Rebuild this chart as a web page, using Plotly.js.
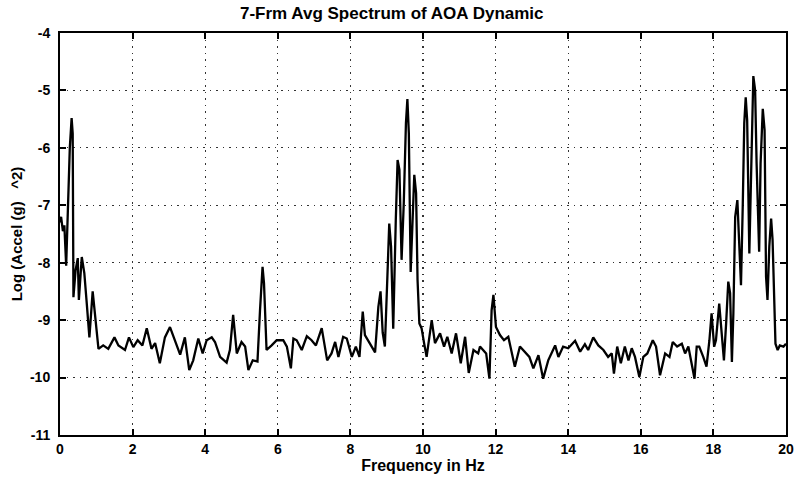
<!DOCTYPE html>
<html>
<head>
<meta charset="utf-8">
<script src="https://cdn.plot.ly/plotly-3.0.1.min.js"></script>
<style>html,body{margin:0;padding:0;background:#fff;}#chart{width:797px;height:486px;}</style>
</head>
<body>
<div id="chart"></div>
<script>
// Frequency (Hz)
const freqHz = [
0.00,0.03,0.08,0.12,0.17,0.22,0.27,0.32,0.35,0.37,0.43,0.49,0.52,0.60,0.67,0.73,0.81,0.90,0.96,1.06,
1.19,1.33,1.50,1.61,1.79,1.90,2.02,2.14,2.27,2.39,2.52,2.62,2.75,2.89,3.03,3.17,3.31,3.44,3.56,3.67,
3.81,3.93,4.04,4.18,4.27,4.41,4.59,4.68,4.77,4.87,5.00,5.10,5.19,5.31,5.44,5.51,5.58,5.62,5.69,5.83,
5.97,6.15,6.25,6.36,6.43,6.52,6.66,6.80,6.93,7.05,7.21,7.36,7.48,7.58,7.67,7.80,7.90,8.04,8.15,8.25,
8.34,8.40,8.52,8.68,8.77,8.83,8.89,8.95,9.02,9.07,9.12,9.18,9.25,9.30,9.35,9.41,9.47,9.53,9.57,9.61,
9.66,9.72,9.76,9.81,9.85,9.90,9.96,10.03,10.10,10.24,10.33,10.47,10.58,10.67,10.79,10.91,11.04,11.16,11.26,11.39,
11.52,11.57,11.74,11.83,11.89,11.94,12.01,12.12,12.23,12.35,12.53,12.67,12.81,12.93,13.04,13.18,13.31,13.45,13.64,13.73,
13.86,14.00,14.19,14.33,14.46,14.55,14.69,14.83,14.97,15.10,15.20,15.26,15.35,15.45,15.56,15.66,15.75,15.84,15.96,16.07,
16.18,16.33,16.42,16.53,16.67,16.79,16.88,17.00,17.13,17.22,17.31,17.40,17.48,17.54,17.61,17.72,17.81,17.89,17.95,18.02,
18.07,18.16,18.23,18.29,18.35,18.41,18.46,18.51,18.55,18.60,18.66,18.71,18.76,18.81,18.85,18.89,18.93,18.99,19.04,19.10,
19.15,19.19,19.26,19.30,19.36,19.41,19.45,19.49,19.54,19.59,19.63,19.67,19.71,19.77,19.83,19.93,20.00
];
// Log (Accel (g)^2) values
const logAccel = [
-7.30,-7.20,-7.45,-7.35,-8.05,-7.00,-6.00,-5.48,-5.75,-8.60,-8.13,-7.92,-8.65,-7.90,-8.18,-8.65,-9.30,-8.50,-8.88,-9.50,
-9.44,-9.50,-9.30,-9.44,-9.52,-9.30,-9.47,-9.35,-9.44,-9.14,-9.50,-9.40,-9.75,-9.30,-9.12,-9.35,-9.60,-9.30,-9.87,-9.70,
-9.32,-9.58,-9.35,-9.30,-9.38,-9.64,-9.74,-9.52,-8.91,-9.58,-9.38,-9.46,-9.87,-9.70,-9.72,-8.83,-8.07,-8.36,-9.52,-9.44,
-9.35,-9.35,-9.46,-9.84,-9.32,-9.35,-9.52,-9.28,-9.35,-9.44,-9.14,-9.70,-9.58,-9.38,-9.64,-9.29,-9.32,-9.64,-9.46,-9.64,
-8.85,-9.26,-9.38,-9.56,-8.77,-8.50,-9.22,-9.46,-8.22,-7.32,-7.72,-9.15,-7.26,-6.21,-6.38,-7.95,-6.97,-5.57,-5.15,-5.75,
-8.16,-7.03,-6.47,-6.79,-8.30,-9.06,-9.14,-9.40,-9.64,-9.00,-9.40,-9.23,-9.46,-9.29,-9.58,-9.23,-9.75,-9.29,-9.92,-9.52,
-9.58,-9.46,-9.58,-10.02,-8.83,-8.56,-9.12,-9.26,-9.35,-9.29,-9.81,-9.46,-9.55,-9.64,-9.84,-9.61,-10.02,-9.70,-9.44,-9.64,
-9.46,-9.49,-9.36,-9.55,-9.42,-9.52,-9.30,-9.44,-9.52,-9.64,-9.58,-9.93,-9.46,-9.75,-9.46,-9.70,-9.49,-9.64,-9.99,-9.64,
-9.58,-9.35,-9.46,-9.96,-9.58,-9.64,-9.38,-9.46,-9.41,-9.58,-9.46,-9.73,-10.02,-9.46,-9.46,-9.64,-9.81,-9.35,-8.88,-9.46,
-9.35,-8.71,-9.23,-9.70,-9.06,-8.33,-8.53,-9.73,-8.88,-7.20,-6.91,-7.55,-8.39,-6.97,-5.57,-5.12,-5.52,-7.84,-6.27,-4.75,
-5.00,-6.27,-7.81,-6.27,-5.32,-5.69,-8.24,-8.65,-7.72,-7.23,-7.60,-8.59,-9.41,-9.52,-9.44,-9.46,-9.41
];
const xTickVals = [0,2,4,6,8,10,12,14,16,18,20];
const xTickLabels = ['0','2','4','6','8','10','12','14','16','18','20'];
const yTickVals = [-11,-10,-9,-8,-7,-6,-5,-4];
const yTickLabels = ['-11','-10','-9','-8','-7','-6','-5','-4'];

const fontFam = 'Liberation Sans, Arial, sans-serif';
const axisCommon = {
  showline: true, linecolor: '#000', linewidth: 2, mirror: 'ticks',
  ticks: 'inside', ticklen: 6, tickwidth: 2, tickcolor: '#000',
  showgrid: true, gridcolor: '#333', gridwidth: 1.2, griddash: '1.5px,5px',
  zeroline: false,
  tickfont: {family: fontFam, size: 14, color: '#000', weight: 'bold'}
};

const trace = {
  x: freqHz, y: logAccel, type: 'scatter', mode: 'lines',
  line: {color: '#000', width: 2.3}, hoverinfo: 'skip'
};

const layout = {
  width: 797, height: 486,
  margin: {l: 60, r: 11, t: 33, b: 51},
  paper_bgcolor: '#fff', plot_bgcolor: '#fff',
  showlegend: false,
  title: {text: '7-Frm Avg Spectrum of AOA Dynamic', xref: 'paper', x: 0.457, xanchor: 'center',
          yref: 'container', y: 0.974, yanchor: 'middle',
          font: {family: fontFam, size: 17, color: '#000', weight: 'bold'}},
  xaxis: Object.assign({}, axisCommon, {
    range: [0, 20], tickvals: xTickVals, ticktext: xTickLabels,
    title: {text: 'Frequency in Hz', standoff: 2, font: {family: fontFam, size: 16, color: '#000', weight: 'bold'}}
  }),
  yaxis: Object.assign({}, axisCommon, {
    range: [-11, -4], tickvals: yTickVals, ticktext: yTickLabels, ticklabelstandoff: 5,
    title: {text: 'Log (Accel (g)   ^2)', standoff: 4, font: {family: fontFam, size: 15, color: '#000', weight: 'bold'}}
  })
};

Plotly.newPlot('chart', [trace], layout, {displayModeBar: false, staticPlot: true});
</script>
</body>
</html>
